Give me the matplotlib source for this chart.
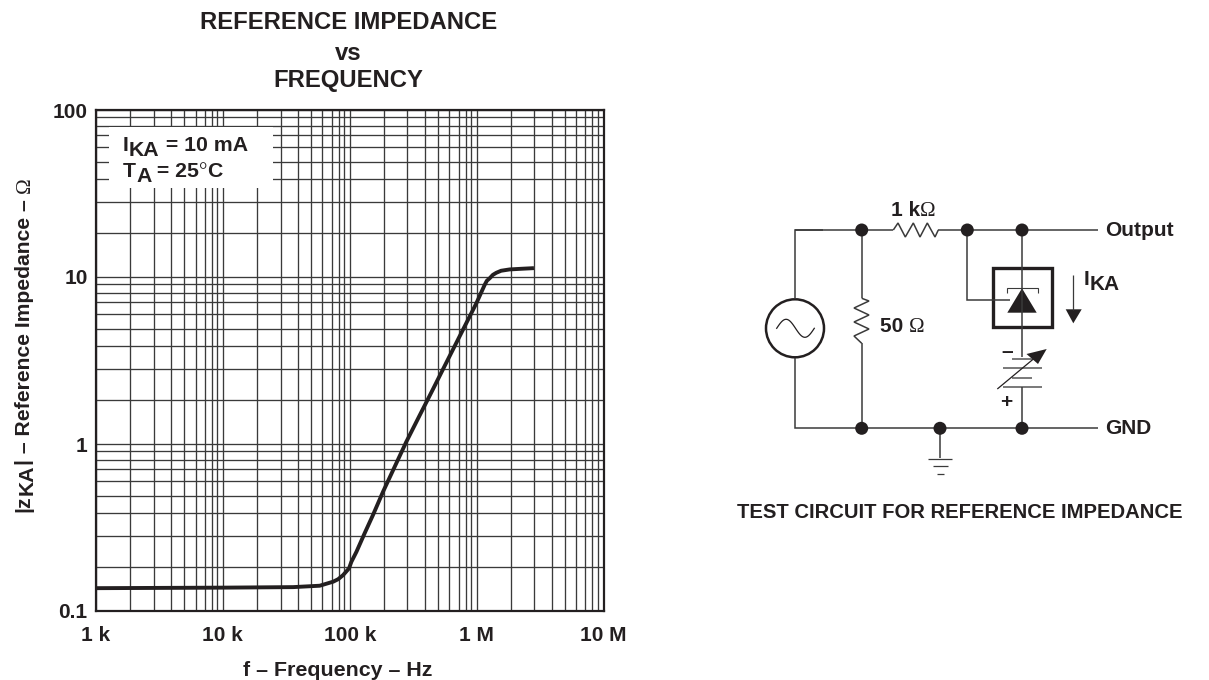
import matplotlib
matplotlib.use('Agg')
import matplotlib.pyplot as plt
import numpy as np
from matplotlib.patches import Circle, Polygon, Rectangle
from matplotlib.ticker import FixedLocator, NullFormatter

# curve
freq = [1e3, 1e4, 3.58e4, 5.8e4, 7.4e4, 8.1e4, 8.86e4, 9.87e4, 1.03e5, 1.13e5, 1.31e5, 1.525e5, 1.83e5, 2.79e5,
        3.56e5, 4.53e5, 5.77e5, 7.8e5, 9.95e5, 1.156e6, 1.205e6, 1.266e6, 1.343e6, 1.43e6, 1.56e6, 1.82e6,
        2.25e6, 2.83e6]
impedance = [0.137, 0.138, 0.139, 0.1417, 0.1498, 0.155, 0.164, 0.180, 0.197, 0.2265, 0.292, 0.376, 0.518, 1.03,
             1.486, 2.13, 3.07, 4.83, 6.96, 8.96, 9.5, 9.82, 10.3, 10.6, 10.9, 11.1,
             11.2, 11.3]

x_ticks = [1e3, 1e4, 1e5, 1e6, 1e7]
x_tick_labels = ['1 k', '10 k', '100 k', '1 M', '10 M']
y_ticks = [0.1, 1, 10, 100]
y_tick_labels = ['0.1', '1', '10', '100']
# the printed grid is not quite a true log ruling, so these are read too
grid_steps_x = [1.86, 2.85, 3.90, 4.98, 6.09, 7.21, 8.19, 9.06]
grid_steps_y = [1.84, 2.81, 3.88, 4.87, 6.01, 7.12, 8.06, 9.03]

INK = '#231f20'
SANS = 'Liberation Sans'
SERIF = 'Liberation Serif'

fig = plt.figure(figsize=(12.09, 6.80), dpi=100, facecolor='white')
ax = fig.add_axes([96 / 1209, (680 - 611) / 680, 507.5 / 1209, 501 / 680])
ax.set_xscale('log')
ax.set_yscale('log')
ax.set_xlim(1e3, 1e7)
ax.set_ylim(0.1, 100)
ax.xaxis.set_major_locator(FixedLocator(x_ticks))
ax.yaxis.set_major_locator(FixedLocator(y_ticks))
ax.xaxis.set_minor_locator(FixedLocator([d * s for d in x_ticks[:-1] for s in grid_steps_x]))
ax.yaxis.set_minor_locator(FixedLocator([d * s for d in y_ticks[:-1] for s in grid_steps_y]))
ax.xaxis.set_minor_formatter(NullFormatter())
ax.yaxis.set_minor_formatter(NullFormatter())
ax.set_xticklabels(x_tick_labels, fontsize=15, fontweight='bold', family=SANS, color=INK)
ax.set_yticklabels(y_tick_labels, fontsize=15, fontweight='bold', family=SANS, color=INK)
ax.tick_params(which='both', length=0)
ax.tick_params(axis='x', pad=11)
ax.tick_params(axis='y', pad=6)
ax.grid(True, which='both', color='#3a3a3a', linewidth=0.95)
ax.set_axisbelow(True)
for s in ax.spines.values():
    s.set_linewidth(1.6)
    s.set_color(INK)
ax.plot(freq, impedance, color=INK, linewidth=2.8, solid_capstyle='butt', zorder=3)

# overlay in pixel coordinates for the legend box, texts and the circuit
ov = fig.add_axes([0, 0, 1, 1])
ov.set_xlim(0, 1209)
ov.set_ylim(680, 0)
ov.axis('off')
ov.patch.set_alpha(0)

renderer = fig.canvas.get_renderer()


def txt(x, y, s, size=15, family=SANS, weight='bold', ha='left', va='baseline', rotation=0):
    return ov.text(x, y, s, fontsize=size, family=family, fontweight=weight, color=INK,
                   ha=ha, va=va, rotation=rotation, rotation_mode='anchor')


def width_of(s, size, family, weight):
    a = ov.text(0, 0, s + '|', fontsize=size, family=family, fontweight=weight)
    b = ov.text(0, 0, '|', fontsize=size, family=family, fontweight=weight)
    w = a.get_window_extent(renderer).width - b.get_window_extent(renderer).width
    a.remove()
    b.remove()
    return w


def chain(x, y, parts, size=15, vertical=False):
    # parts: text, drop below the baseline, family, weight
    for s, drop, family, weight in parts:
        if vertical:
            txt(x + drop, y, s, size, family, weight, rotation=90)
            y -= width_of(s, size, family, weight)
        else:
            txt(x, y + drop, s, size, family, weight)
            x += width_of(s, size, family, weight)


def wire(xs, ys, lw=1.1, color='#3a3a3a'):
    ov.plot(xs, ys, color=color, linewidth=lw, solid_capstyle='butt', solid_joinstyle='miter')


# title and axis labels
txt(348.5, 29, 'REFERENCE IMPEDANCE', 17.2, ha='center')
txt(348.5, 60, 'vs', 17.2, ha='center')
txt(348.5, 87.5, 'FREQUENCY', 17.2, ha='center')
txt(338, 675.5, 'f \u2013 Frequency \u2013 Hz', 15.4, ha='center')
chain(29.5, 512, [('|z', 0, SANS, 'bold'), ('KA', 3, SANS, 'bold'),
                  ('| \u2013 Reference Impedance \u2013 ', 0, SANS, 'bold'),
                  ('\u03a9', 0, SERIF, 'normal')], 15.2, vertical=True)

# condition box on the grid
ov.add_patch(Rectangle((109, 127), 164, 61, facecolor='white', edgecolor='none'))
chain(123, 151, [('I', 0, SANS, 'bold'), ('KA', 4.5, SANS, 'bold'), (' = 10 mA', 0, SANS, 'bold')], 15.3)
chain(123, 177, [('T', 0, SANS, 'bold'), ('A', 4.5, SANS, 'bold'), (' = 25', 0, SANS, 'bold'),
                 ('\u00b0', 0, SERIF, 'normal'), ('C', 0, SANS, 'bold')], 15.3)

# test circuit
top, bot = 230, 428.3
wire([823, 795, 795], [230, 230, 299])
wire([795, 795, 823], [357.5, 428.3, 428.3])
wire([823, 1098], [bot, bot])
ov.add_patch(Circle((795, 328.3), 29, facecolor='none', edgecolor=INK, linewidth=1.8))
sx = np.linspace(776.7, 814.3, 60)
ov.plot(sx, 328.3 - 9 * np.sin((sx - 776.7) / 37.6 * 2 * np.pi), color=INK, linewidth=0.9)

# 1 k resistor and the top rail
wire([795, 893.3], [top, top])
wire([893.3, 898, 905.3, 913.3, 920, 927.3, 935, 938.3], [230, 223, 237, 223, 237, 223, 237, 230])
wire([938.3, 1098], [top, top])
# 50 ohm resistor
wire([861.7, 861.7], [top, 298.3])
wire([861.7, 869, 854, 869, 854, 869, 854, 861.7], [298.3, 301, 308, 315, 322, 329, 336, 343.3])
wire([861.7, 861.7], [343.3, bot])
# reference feedback
wire([967.3, 967.3, 1010], [top, 300, 300])
# shunt device
wire([1022, 1022], [top, 357])
ov.add_patch(Rectangle((992.7, 268.3), 59, 59, facecolor='none', edgecolor=INK, linewidth=2.4, joinstyle='miter'))
ov.add_patch(Polygon([(1022, 288.3), (1007.3, 312.7), (1036.7, 312.7)], facecolor=INK, edgecolor='none'))
wire([1006.7, 1006.7, 1038.3, 1038.3], [293, 288.3, 288.3, 293], lw=0.8)
# adjustable supply
for py, x0, x1 in [(359, 1011.7, 1031.7), (368.3, 1002.7, 1041.7), (377.7, 1011.7, 1031.7), (387.3, 1002.7, 1041.7)]:
    wire([x0, x1], [py, py], color='#555555')
wire([1022, 1022], [387.3, bot])
wire([997.3, 1034], [389, 358.5], lw=0.9, color=INK)
ov.add_patch(Polygon([(1046.7, 349), (1026.5, 354), (1038, 364)], facecolor=INK, edgecolor='none'))
txt(1006.7, 351.3, '\u2013', 15, ha='center', va='center')
txt(1006.7, 402.3, '+', 15, ha='center', va='center')
# current arrow
wire([1073.3, 1073.3], [275, 310], lw=0.9)
ov.add_patch(Polygon([(1065.7, 309.3), (1081.7, 309.3), (1073.3, 323.3)], facecolor=INK, edgecolor='none'))
# ground
wire([940, 940], [bot, 458])
for py, x0, x1 in [(459.3, 928.3, 952.3), (466.3, 933.3, 947.7), (473.7, 936.7, 944)]:
    wire([x0, x1], [py, py], lw=0.9)
# junction dots
for cx, cy in [(861.7, top), (967.3, top), (1022, top), (861.7, bot), (940, bot), (1022, bot)]:
    ov.add_patch(Circle((cx, cy), 6.5, facecolor=INK, edgecolor='none', zorder=4))

chain(890.7, 216, [('1 k', 0, SANS, 'bold'), ('\u03a9', 0, SERIF, 'normal')], 15)
chain(880, 332, [('50 ', 0, SANS, 'bold'), ('\u03a9', 0, SERIF, 'normal')], 15)
txt(1105, 236, 'Output', 15)
txt(1105, 434, 'GND', 15)
chain(1084, 285, [('I', 0, SANS, 'bold'), ('KA', 4.5, SANS, 'bold')], 15)
txt(960, 517.5, 'TEST CIRCUIT FOR REFERENCE IMPEDANCE', 14.6, ha='center')

fig.savefig('out.png', dpi=100)
